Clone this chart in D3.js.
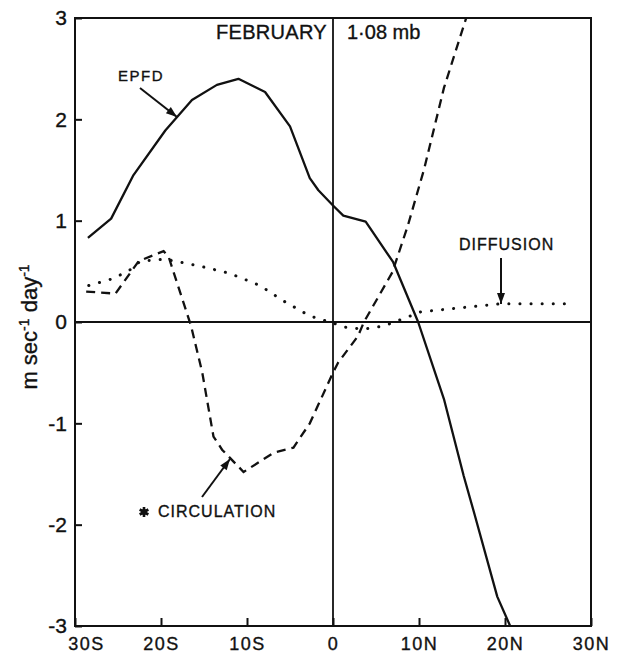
<!DOCTYPE html>
<html><head><meta charset="utf-8">
<script src="https://cdn.jsdelivr.net/npm/d3@7"></script>
<style>
body{margin:0;background:#fff;}
text{font-family:"Liberation Sans",Arial,sans-serif;fill:#111;stroke:#111;stroke-width:0.35px;}
</style></head>
<body>
<svg id="c" width="622" height="654"></svg>
<script>
// ---- data (latitude in degrees, negative = S) ----
const xTicks = [-30,-20,-10,0,10,20,30];
const xTickLabels = ["30S","20S","10S","0","10N","20N","30N"];
const yTicks = [-3,-2,-1,0,1,2,3];
const yTickLabels = ["-3","-2","-1","0","1","2","3"];

const epfdLat = [-28.5,-25.8,-23.2,-19.5,-16.4,-13.5,-11.0,-7.9,-5.0,-2.7,-1.7,0,1.2,3.8,7.0,9.9,12.9,15.2,16.4,19.1,20.6];
const epfdVal = [0.83,1.02,1.45,1.89,2.19,2.34,2.40,2.27,1.93,1.42,1.30,1.15,1.05,0.99,0.59,0,-0.76,-1.52,-1.88,-2.71,-3.0];

const circLat = [-28.7,-25.3,-22.6,-19.7,-19.1,-16.5,-15.2,-13.9,-12.9,-10.4,-6.9,-4.6,-2.7,0,0.6,2.9,3.6,6.9,8.7,10.6,12.9,15.6];
const circVal = [0.30,0.28,0.60,0.70,0.64,-0.04,-0.50,-1.13,-1.26,-1.48,-1.29,-1.24,-1.0,-0.5,-0.40,-0.14,0,0.49,0.95,1.51,2.31,3.03];

const diffLat = [-28.4,-25.5,-23.5,-22.4,-19.5,-15.4,-12.0,-8.5,-5.8,-2.7,0,1.3,3.5,5.9,8.7,10.2,14.8,19.5,24.5,28];
const diffVal = [0.36,0.43,0.52,0.60,0.62,0.55,0.48,0.36,0.21,0.06,-0.01,-0.05,-0.07,-0.04,0.05,0.10,0.14,0.18,0.18,0.18];

const titleLeft = "FEBRUARY";
const titleRight = "1·08 mb";

// ---- layout ----
const L = 75, R = 591, T = 18, B = 626;
const svg = d3.select("#c");
const x = d3.scaleLinear().domain([-30,30]).range([L,R]);
const y = d3.scaleLinear().domain([-3,3]).range([B,T]);

svg.append("defs").append("clipPath").attr("id","clip")
  .append("rect").attr("x",L).attr("y",T).attr("width",R-L).attr("height",B-T);

// axes
const ya = svg.append("g").attr("transform",`translate(${L},0)`)
  .call(d3.axisLeft(y).tickValues(yTicks).tickSize(-7).tickPadding(8)
    .tickFormat((d,i)=>yTickLabels[i]));
ya.select(".domain").remove();
ya.selectAll("line").attr("stroke","#111").attr("stroke-width",2);
ya.selectAll("text").attr("font-size",21).attr("fill","#111").style("font-family","Liberation Sans, Arial, sans-serif");

const xa = svg.append("g").attr("transform",`translate(0,${B})`)
  .call(d3.axisBottom(x).tickValues(xTicks).tickSize(-8).tickPadding(11)
    .tickFormat((d,i)=>xTickLabels[i]));
xa.select(".domain").remove();
xa.selectAll("line").attr("stroke","#111").attr("stroke-width",2);
xa.selectAll("text").attr("font-size",18).attr("letter-spacing",1.5).attr("fill","#111")
  .style("font-family","Liberation Sans, Arial, sans-serif");
xa.selectAll(".tick").filter(d=>d===-30).select("text").attr("dx",11);

// frame + zero lines
svg.append("rect").attr("x",L).attr("y",T).attr("width",R-L).attr("height",B-T)
  .attr("fill","none").attr("stroke","#111").attr("stroke-width",2);
svg.append("line").attr("x1",L).attr("x2",R).attr("y1",y(0)).attr("y2",y(0))
  .attr("stroke","#111").attr("stroke-width",2);
svg.append("line").attr("x1",x(0)).attr("x2",x(0)).attr("y1",T).attr("y2",B)
  .attr("stroke","#111").attr("stroke-width",1.8);

// curves
const line = d3.line().x(d=>x(d[0])).y(d=>y(d[1]));
const g = svg.append("g").attr("clip-path","url(#clip)");
g.append("path").datum(d3.zip(epfdLat,epfdVal)).attr("d",line)
  .attr("fill","none").attr("stroke","#111").attr("stroke-width",2.3).attr("stroke-linejoin","round");
g.append("path").datum(d3.zip(circLat,circVal)).attr("d",line)
  .attr("fill","none").attr("stroke","#111").attr("stroke-width",2.3).attr("stroke-dasharray","9,6");
g.append("path").datum(d3.zip(diffLat,diffVal)).attr("d",line)
  .attr("fill","none").attr("stroke","#111").attr("stroke-width",3)
  .attr("stroke-linecap","round").attr("stroke-dasharray","0.1,11");

// title
svg.append("text").attr("x",x(0)-6).attr("y",39).attr("text-anchor","end")
  .attr("font-size",20).attr("letter-spacing",0.3).text(titleLeft);
svg.append("text").attr("x",x(0)+14).attr("y",39).attr("text-anchor","start")
  .attr("font-size",20).text(titleRight);

// y-axis title
const yt = svg.append("text").attr("transform","translate(37,327) rotate(-90)")
  .attr("text-anchor","middle").attr("font-size",22);
yt.append("tspan").text("m sec");
yt.append("tspan").attr("baseline-shift","super").attr("font-size",14).text("-1");
yt.append("tspan").text(" day");
yt.append("tspan").attr("baseline-shift","super").attr("font-size",14).text("-1");

// annotations
function arrow(x1,y1,x2,y2){
  svg.append("line").attr("x1",x1).attr("y1",y1).attr("x2",x2).attr("y2",y2)
    .attr("stroke","#111").attr("stroke-width",2);
  const a = Math.atan2(y2-y1,x2-x1), len=11, w=4;
  const bx = x2 - len*Math.cos(a), by = y2 - len*Math.sin(a);
  const px = -Math.sin(a)*w, py = Math.cos(a)*w;
  svg.append("path").attr("d",`M${x2},${y2}L${bx+px},${by+py}L${bx-px},${by-py}Z`).attr("fill","#111");
}
svg.append("text").attr("x",118).attr("y",81).attr("font-size",15).attr("letter-spacing",1.5).text("EPFD");
arrow(140,88,177,117);
svg.append("text").attr("x",459).attr("y",250).attr("font-size",16).attr("letter-spacing",1).text("DIFFUSION");
arrow(501,258,501,304);
svg.append("text").attr("x",158).attr("y",517).attr("font-size",16).attr("letter-spacing",1).text("CIRCULATION");
arrow(202,497,230,459);
svg.append("path").attr("transform","translate(144,512)")
  .attr("d",d3.symbol(d3.symbolAsterisk,70)()).attr("stroke","#111").attr("stroke-width",2.6).attr("fill","none");
svg.append("circle").attr("cx",144).attr("cy",512).attr("r",3).attr("fill","#111");
</script>
</body></html>
